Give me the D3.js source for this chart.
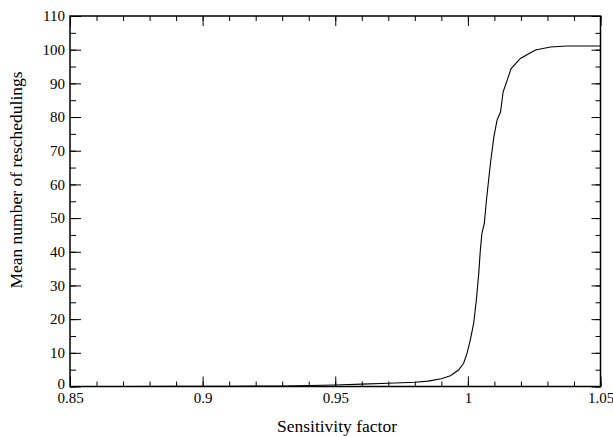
<!DOCTYPE html>
<html>
<head>
<meta charset="utf-8">
<script src="https://cdn.jsdelivr.net/npm/d3@7"></script>
<style>
  html, body { margin: 0; padding: 0; background: #fff; }
  svg { display: block; }
  text { font-family: "Liberation Serif", "Times New Roman", serif; fill: #000; }
</style>
</head>
<body>
<div id="chart"></div>
<script>
// Data
const sensitivity = [0.85, 0.87, 0.89, 0.91, 0.93, 0.94, 0.95, 0.96, 0.97, 0.98, 0.985, 0.99, 0.9934, 0.9965, 0.9984, 0.9997, 1.0009, 1.0022, 1.0032, 1.0041, 1.0047, 1.0053, 1.0062, 1.0070, 1.0085, 1.0098, 1.0110, 1.0123, 1.0133, 1.0148, 1.0163, 1.0198, 1.0236, 1.0255, 1.0311, 1.0374, 1.045, 1.05];
const meanReschedulings = [0, 0.02, 0.04, 0.08, 0.15, 0.3, 0.45, 0.7, 0.95, 1.25, 1.6, 2.3, 3.2, 4.9, 6.9, 9.9, 13.8, 18.8, 25.7, 33.6, 40.5, 45.5, 48.4, 55.3, 66.2, 74.1, 79.1, 81.5, 87.5, 90.9, 94.4, 97.4, 99.1, 99.9, 100.8, 101.1, 101.1, 101.1];
const xTickValues = [0.85, 0.9, 0.95, 1, 1.05];
const xTickLabels = ["0.85", "0.9", "0.95", "1", "1.05"];
const xMinorTicks = d3.range(0, 21).map(i => 0.85 + i * 0.01);
const yTickValues = [0, 10, 20, 30, 40, 50, 60, 70, 80, 90, 100, 110];
const yMinorTicks = d3.range(0, 23).map(i => i * 5);
const xTitle = "Sensitivity factor";
const yTitle = "Mean number of reschedulings";

const W = 613, H = 436;
const mLeft = 70, mRight = 600.5, mTop = 16, mBottom = 386.5;

const svg = d3.select("#chart").append("svg").attr("width", W).attr("height", H);

const x = d3.scaleLinear().domain([0.85, 1.05]).range([mLeft, mRight]);
const y = d3.scaleLinear().domain([0, 110]).range([mBottom, mTop]);

const fmtX = d => xTickLabels[xTickValues.findIndex(v => Math.abs(v - d) < 1e-9)] || "";

function tickAxis(axisFn, scale, vals, size, transform) {
  const g = svg.append("g").attr("transform", transform)
    .call(axisFn(scale).tickValues(vals).tickSize(size).tickFormat(""));
  g.select(".domain").remove();
  g.selectAll(".tick line").attr("stroke", "#000").attr("stroke-width", 1);
  return g;
}
// Minor ticks (inward) on all four sides
tickAxis(d3.axisTop, x, xMinorTicks, 5, `translate(0,${mBottom})`);
tickAxis(d3.axisBottom, x, xMinorTicks, 5, `translate(0,${mTop})`);
tickAxis(d3.axisRight, y, yMinorTicks, 6, `translate(${mLeft},0)`);
tickAxis(d3.axisLeft, y, yMinorTicks, 5, `translate(${mRight},0)`);
// Major ticks
tickAxis(d3.axisTop, x, xTickValues, 10, `translate(0,${mBottom})`);
tickAxis(d3.axisBottom, x, xTickValues, 10, `translate(0,${mTop})`);
tickAxis(d3.axisRight, y, yTickValues, 11, `translate(${mLeft},0)`);
tickAxis(d3.axisLeft, y, yTickValues, 9, `translate(${mRight},0)`);

// Tick labels
const xl = svg.append("g").attr("transform", `translate(0,${mBottom})`)
  .call(d3.axisBottom(x).tickValues(xTickValues).tickSize(0).tickPadding(6).tickFormat(fmtX));
xl.select(".domain").remove();
xl.selectAll("text").style("font-family", "'Liberation Serif', serif").style("font-size", "15px").attr("fill", "#000");

const yl = svg.append("g").attr("transform", `translate(${mLeft},0)`)
  .call(d3.axisLeft(y).tickValues(yTickValues).tickSize(0).tickPadding(5).tickFormat(d3.format("d")));
yl.select(".domain").remove();
yl.selectAll("text").style("font-family", "'Liberation Serif', serif").style("font-size", "15px").attr("fill", "#000");
yl.selectAll(".tick").filter(d => d === 0).select("text").attr("dy", "0.1em");

// Frame
svg.append("rect").attr("x", mLeft).attr("y", mTop).attr("width", mRight - mLeft).attr("height", mBottom - mTop)
  .attr("fill", "none").attr("stroke", "#000").attr("stroke-width", 1.5);

// Curve
const line = d3.line().x(d => x(d[0])).y(d => y(d[1]));
svg.append("path")
  .datum(sensitivity.map((s, i) => [s, meanReschedulings[i]]))
  .attr("d", line).attr("fill", "none").attr("stroke", "#000").attr("stroke-width", 1.1);

// Titles
svg.append("text").attr("x", 337).attr("y", 431.5)
  .attr("text-anchor", "middle").style("font-size", "17.5px").text(xTitle);
svg.append("text").attr("transform", `translate(21.5,180) rotate(-90)`)
  .attr("text-anchor", "middle").style("font-size", "17.5px").text(yTitle);
</script>
</body>
</html>
